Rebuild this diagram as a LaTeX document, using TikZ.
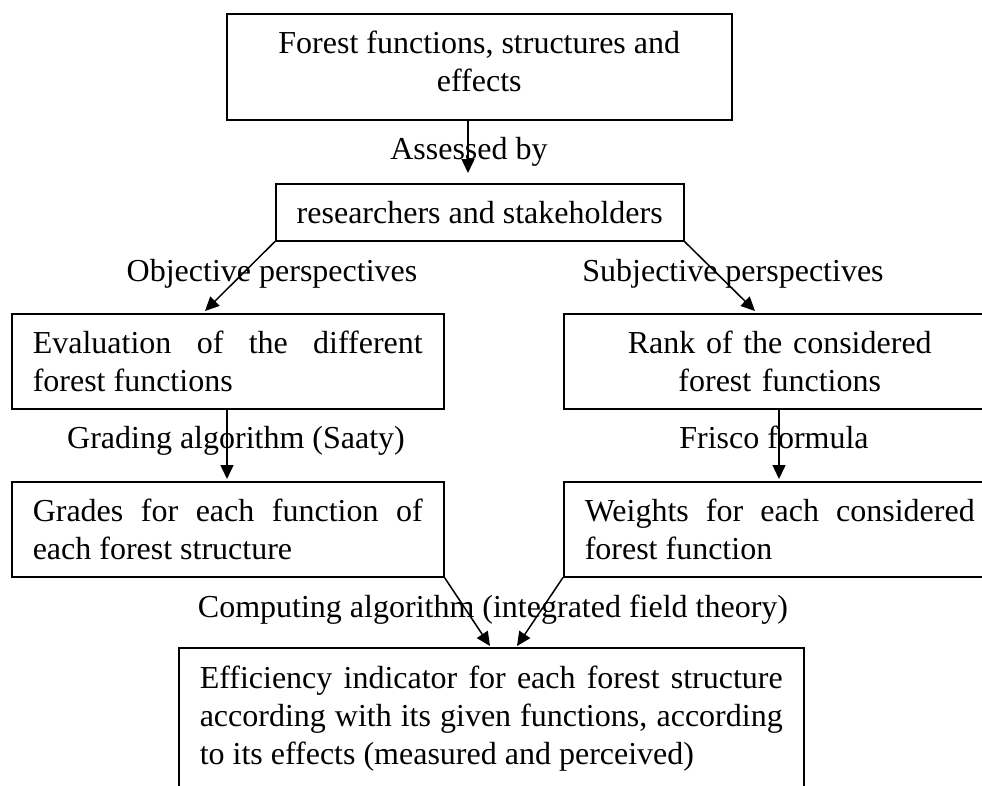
\documentclass[tikz,border=0pt]{standalone}
\usepackage{fontspec}
\setmainfont{Liberation Serif}
\usetikzlibrary{arrows.meta,calc}
\tikzset{
  box/.style={draw, line width=1.5pt, anchor=north west, inner sep=0pt},
  wbox/.style={box, inner xsep=21pt, text width=390pt, minimum height=95pt},
  lbl/.style={anchor=base, inner sep=0pt},
  arr/.style={line width=1.5pt, -{Triangle[length=14pt,width=13pt]}}
}
\begin{document}
\begin{tikzpicture}[x=1pt, y=-1pt, font=\fontsize{32}{38}\selectfont]
\useasboundingbox (0,0) rectangle (982,785);
% boxes
\node[box, minimum width=505pt, minimum height=106pt, align=center] (top) at (226,13)
  {Forest functions, structures and\\effects\rule[-12pt]{0pt}{0pt}};
\node[box, minimum width=408pt, minimum height=57pt, align=center] (rs) at (275,183)
  {researchers and stakeholders};
\node[wbox, align=justify] (eval) at (11,313)
  {Evaluation of the different\linebreak forest functions};
\node[wbox, align=center] (rank) at (563,313)
  {Rank of the considered\\forest functions};
\node[wbox, align=justify] (grades) at (11,481)
  {Grades for each function of\linebreak each forest structure};
\node[wbox, align=justify] (weights) at (563,481)
  {Weights for each considered\linebreak forest function};
\node[box, inner xsep=21pt, inner ysep=18pt, text width=583pt, align=justify] (eff) at (178,647)
  {Efficiency indicator for each forest structure\linebreak according with its given functions, according\linebreak to its effects (measured and perceived)\rule[-40pt]{0pt}{0pt}};
% labels
\node[lbl] (lA) at (469,159) {Assessed by};
\node[lbl] (lB) at (272,281) {Objective perspectives};
\node[lbl] (lC) at (733,281) {Subjective perspectives};
\node[lbl] (lD) at (236,448) {Grading algorithm (Saaty)};
\node[lbl] (lE) at (774,448) {Frisco formula};
\node[lbl] (lF) at (493,617) {Computing algorithm (integrated field theory)};
% connectors
\draw[arr] ($(top.south west)+(242,0)$) -- ($(rs.north west)+(193,-10)$);
\draw[arr] (rs.south west) -- ($(eval.north west)+(194,-2)$);
\draw[arr] (rs.south east) -- ($(rank.north west)+(192,-2)$);
\draw[arr] ($(eval.south west)+(216,0)$) -- ($(grades.north west)+(216,-2)$);
\draw[arr] ($(rank.south west)+(216,0)$) -- ($(weights.north west)+(216,-2)$);
\draw[arr] (grades.south east) -- ($(eff.north west)+(312,-1)$);
\draw[arr] (weights.south west) -- ($(eff.north west)+(339,-1)$);
\end{tikzpicture}
\end{document}
